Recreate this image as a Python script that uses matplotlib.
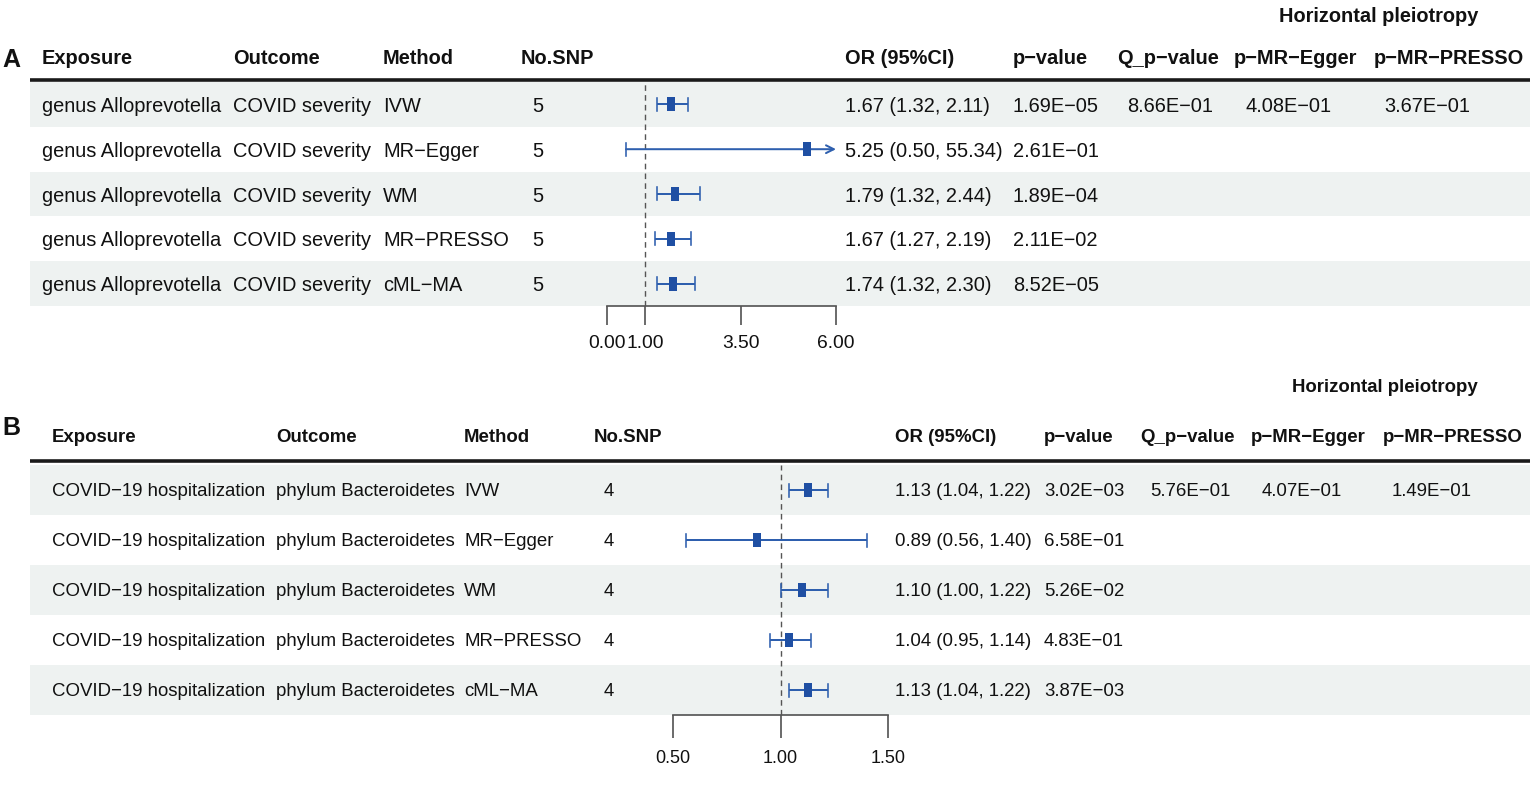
import matplotlib
matplotlib.use("Agg")
import matplotlib.pyplot as plt
from matplotlib import font_manager as fm

# ---------------- data ----------------
A_exposure = ["genus Alloprevotella"] * 5
A_outcome = ["COVID severity"] * 5
A_method = ["IVW", "MR\u2212Egger", "WM", "MR\u2212PRESSO", "cML\u2212MA"]
A_nsnp = ["5", "5", "5", "5", "5"]
A_or = [1.67, 5.25, 1.79, 1.67, 1.74]
A_lo = [1.32, 0.50, 1.32, 1.27, 1.32]
A_hi = [2.11, 55.34, 2.44, 2.19, 2.30]
A_p = ["1.69E\u221205", "2.61E\u221201", "1.89E\u221204", "2.11E\u221202", "8.52E\u221205"]
A_q = ["8.66E\u221201", "", "", "", ""]
A_egger = ["4.08E\u221201", "", "", "", ""]
A_presso = ["3.67E\u221201", "", "", "", ""]
A_ticks = [0.001, 1.0, 3.5, 6.0]
A_ticklabels = ["0.00", "1.00", "3.50", "6.00"]

B_exposure = ["COVID\u221219 hospitalization"] * 5
B_outcome = ["phylum Bacteroidetes"] * 5
B_method = ["IVW", "MR\u2212Egger", "WM", "MR\u2212PRESSO", "cML\u2212MA"]
B_nsnp = ["4", "4", "4", "4", "4"]
B_or = [1.13, 0.89, 1.10, 1.04, 1.13]
B_lo = [1.04, 0.56, 1.00, 0.95, 1.04]
B_hi = [1.22, 1.40, 1.22, 1.14, 1.22]
B_p = ["3.02E\u221203", "6.58E\u221201", "5.26E\u221202", "4.83E\u221201", "3.87E\u221203"]
B_q = ["5.76E\u221201", "", "", "", ""]
B_egger = ["4.07E\u221201", "", "", "", ""]
B_presso = ["1.49E\u221201", "", "", "", ""]
B_ticks = [0.5, 1.0, 1.5]
B_ticklabels = ["0.50", "1.00", "1.50"]

headers = ["Exposure", "Outcome", "Method", "No.SNP", "OR (95%CI)",
           "p\u2212value", "Q_p\u2212value", "p\u2212MR\u2212Egger", "p\u2212MR\u2212PRESSO"]
group_title = "Horizontal pleiotropy"

# ---------------- fonts ----------------
def has_font(name):
    try:
        fm.findfont(fm.FontProperties(family=name), fallback_to_default=False)
        return True
    except Exception:
        return False

if has_font("Liberation Sans Narrow"):
    FAM = ["Liberation Sans Narrow", "DejaVu Sans"]
    SC = 1.03
else:
    FAM = ["Liberation Sans", "DejaVu Sans"]
    SC = 0.85
LAB_FAM = ["Liberation Sans", "DejaVu Sans"]

W, H = 1532, 786
TXT = "#111111"
SHADE = "#EEF2F1"
BLUE = "#2E5FAE"
MBLUE = "#1F4FA3"
GREY = "#555555"
PX = 72.0 / 100.0  # px -> pt

fig = plt.figure(figsize=(W / 100, H / 100), dpi=100)
bg = fig.add_axes([0, 0, 1, 1])
bg.set_xlim(0, W)
bg.set_ylim(H, 0)
bg.axis("off")

rect_marker = [(-0.3, -0.5), (0.3, -0.5), (0.3, 0.5), (-0.3, 0.5), (-0.3, -0.5)]


def draw_panel(label, label_xy, title_xy, header_y, line_y, row_top, row_h,
               hdr_x, val_x, fx0, fx1, cols, orv, lov, hiv, ticks, ticklabels,
               fs, tfs, ticklen_px, tickpad_px):
    n = len(orv)
    # row shading
    for i in range(n):
        if i % 2 == 0:
            bg.add_patch(plt.Rectangle((30, row_top + i * row_h), 1500, row_h,
                                       facecolor=SHADE, edgecolor="none", zorder=0))
    # thick header rule
    bg.plot([30, 1530], [line_y, line_y], color="#1a1a1a", lw=3.6 * PX,
            solid_capstyle="butt", zorder=2)
    # panel label
    bg.text(label_xy[0], label_xy[1], label, fontsize=18, fontweight="bold",
            family=LAB_FAM, color=TXT, ha="left", va="center")
    # group title
    bg.text(title_xy[0], title_xy[1], group_title, fontsize=fs, fontweight="bold",
            family=FAM, color=TXT, ha="center", va="center_baseline")
    # headers
    for x, h in zip(hdr_x, headers):
        bg.text(x, header_y, h, fontsize=fs, fontweight="bold", family=FAM,
                color=TXT, ha="left", va="center_baseline")
    # cells
    for c, col in enumerate(cols):
        for i, s in enumerate(col):
            if s:
                bg.text(val_x[c], row_top + (i + 0.5) * row_h, s, fontsize=fs,
                        family=FAM, color=TXT, ha="left", va="center_baseline")

    # forest axes
    bottom_px = row_top + n * row_h
    ax = fig.add_axes([fx0 / W, 1 - bottom_px / H, (fx1 - fx0) / W, n * row_h / H])
    ax.set_facecolor("none")
    xmin, xmax = ticks[0], ticks[-1]
    ax.set_xlim(xmin, xmax)
    ax.set_ylim(n + 0.5, 0.5)
    for s in ["top", "left", "right"]:
        ax.spines[s].set_visible(False)
    ax.spines["bottom"].set_color(GREY)
    ax.spines["bottom"].set_linewidth(1.7 * PX)
    ax.set_yticks([])
    ax.set_xticks(ticks)
    ax.set_xticklabels(ticklabels, fontsize=tfs, family=FAM, color=TXT)
    ax.tick_params(axis="x", direction="out", length=ticklen_px * PX,
                   width=1.7 * PX, color=GREY, pad=tickpad_px * PX)
    ax.axvline(1.0, color=GREY, lw=1.4 * PX, ls=(0, (4, 3)), zorder=1)
    cap = 6.5 / row_h
    for i in range(n):
        y = i + 1
        lo, hi, o = lov[i], hiv[i], orv[i]
        lo_c = max(lo, xmin)
        hi_c = min(hi, xmax)
        if hi > xmax:
            ax.annotate("", xy=(hi_c, y), xytext=(lo_c, y),
                        arrowprops=dict(arrowstyle="->", color=BLUE, lw=2.0 * PX,
                                        shrinkA=0, shrinkB=0, mutation_scale=14),
                        annotation_clip=False)
        else:
            ax.plot([lo_c, hi_c], [y, y], color=BLUE, lw=2.0 * PX, clip_on=False,
                    solid_capstyle="butt", zorder=3)
        if lo >= xmin:
            ax.plot([lo, lo], [y - cap, y + cap], color=BLUE, lw=1.6 * PX,
                    clip_on=False, zorder=3)
        if hi <= xmax:
            ax.plot([hi, hi], [y - cap, y + cap], color=BLUE, lw=1.6 * PX,
                    clip_on=False, zorder=3)
        ax.plot([o], [y], marker=rect_marker, markersize=10 * PX * 1.4,
                color=MBLUE, markeredgewidth=0, linestyle="none",
                clip_on=False, zorder=4)
    return ax


def or_text(o, l, h):
    return [f"{a:.2f} ({b:.2f}, {c:.2f})" for a, b, c in zip(o, l, h)]


draw_panel("A", (2, 60), (1379, 14), 57, 80, 82, 44.8,
           [42, 233, 383, 521, 845, 1013, 1117, 1234, 1374],
           [42, 233, 383, 532, 845, 1013, 1127, 1245, 1384],
           607, 836,
           [A_exposure, A_outcome, A_method, A_nsnp, or_text(A_or, A_lo, A_hi),
            A_p, A_q, A_egger, A_presso],
           A_or, A_lo, A_hi, A_ticks, A_ticklabels,
           17 * SC, 16.3 * SC, 19, 10)

draw_panel("B", (2, 428), (1385, 385), 435, 461, 465, 50,
           [52, 276, 464, 594, 895, 1044, 1140, 1251, 1383],
           [52, 276, 464, 604, 895, 1044, 1150, 1262, 1392],
           673, 888,
           [B_exposure, B_outcome, B_method, B_nsnp, or_text(B_or, B_lo, B_hi),
            B_p, B_q, B_egger, B_presso],
           B_or, B_lo, B_hi, B_ticks, B_ticklabels,
           15.8 * SC, 15.3 * SC, 23, 12)

fig.savefig("out.png", dpi=100, facecolor="white")
